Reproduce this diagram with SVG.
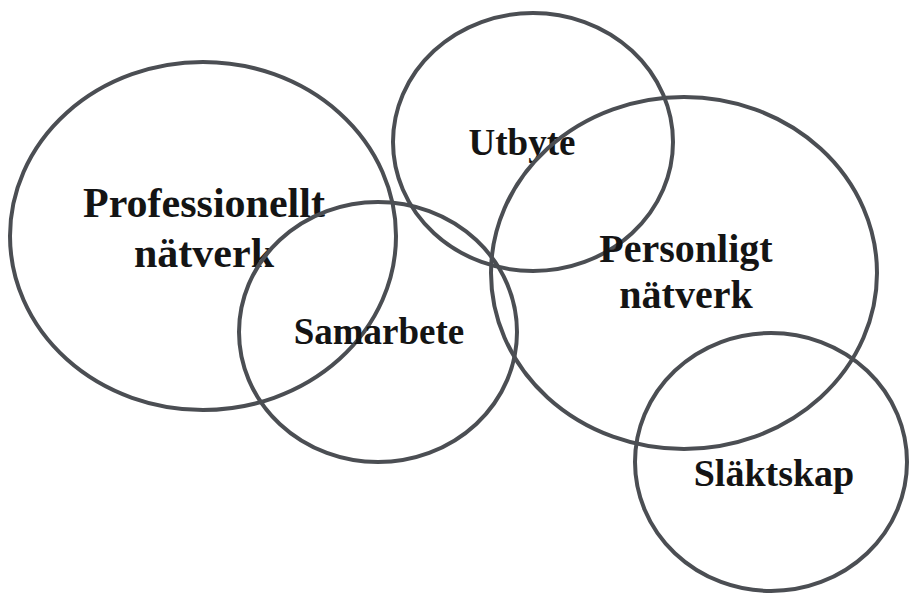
<svg xmlns="http://www.w3.org/2000/svg" width="909" height="593" viewBox="0 0 909 593">
<style>
.c{fill:none;stroke:#4b4e53;stroke-width:4}
.t{font-family:"Liberation Serif","Times New Roman",serif;font-weight:bold;fill:#141414;text-anchor:middle}
</style>
<rect width="909" height="593" fill="#fff"/>
<g id="professionellt">
<ellipse class="c" cx="203" cy="236" rx="193" ry="174"/>
<text class="t" x="204" y="217" font-size="42">Professionellt</text>
<text class="t" x="204" y="267" font-size="42">nätverk</text>
</g>
<g id="samarbete">
<ellipse class="c" cx="378" cy="332" rx="139" ry="130"/>
<text class="t" x="379" y="344" font-size="37">Samarbete</text>
</g>
<g id="utbyte">
<ellipse class="c" cx="533" cy="142" rx="140" ry="129"/>
<text class="t" x="522" y="155" font-size="37">Utbyte</text>
</g>
<g id="personligt">
<ellipse class="c" cx="684" cy="273" rx="193" ry="176"/>
<text class="t" x="686" y="262" font-size="40">Personligt</text>
<text class="t" x="686" y="308" font-size="40">nätverk</text>
</g>
<g id="slaktskap">
<ellipse class="c" cx="771" cy="462" rx="136" ry="129"/>
<text class="t" x="774" y="486" font-size="38">Släktskap</text>
</g>
</svg>
